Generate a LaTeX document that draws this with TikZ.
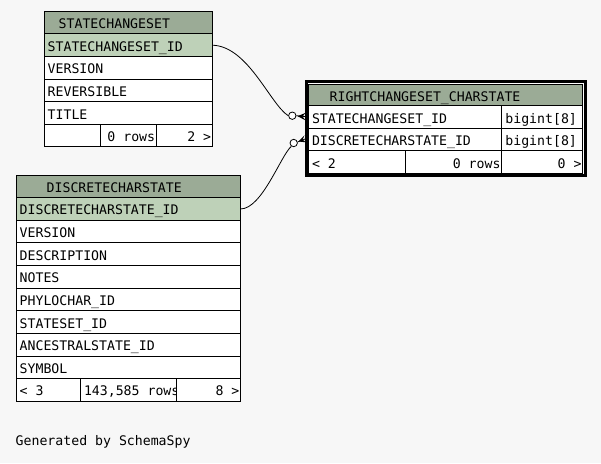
\documentclass[tikz,border=0pt]{standalone}
\usepackage{fontspec}
\newfontfamily\erfont{DejaVu Sans Mono}
\definecolor{bg}{HTML}{F7F7F7}
\definecolor{hdr}{HTML}{9BAB96}
\definecolor{pk}{HTML}{BED1B8}
\tikzset{
  cellbox/.style={draw=black, line width=1pt, inner sep=0pt, outer sep=0pt, rectangle},
  lbl/.style={anchor=base west, inner sep=0pt, font=\erfont\fontsize{13.2}{14}\selectfont},
  rlbl/.style={anchor=base east, inner sep=0pt, font=\erfont\fontsize{13.2}{14}\selectfont},
  rel/.style={line width=0.8pt, black},
  odot/.style={circle, draw=black, fill=white, line width=0.8pt, minimum size=7.4pt, inner sep=0pt},
  frame/.style={draw=black, line width=2.6pt, fill=white, inner sep=0pt, outer sep=0pt, rectangle},
}
% name x y w h fill text
\newcommand{\rowL}[7]{%
  \node[cellbox, fill=#6, minimum width=#4pt, minimum height=#5pt, anchor=north west] (#1) at (#2,#3) {};
  \node[lbl] (#1t) at (#2+3.5,#3+17.3) {#7};}
\newcommand{\rowR}[7]{%
  \node[cellbox, fill=#6, minimum width=#4pt, minimum height=#5pt, anchor=north west] (#1) at (#2,#3) {};
  \node[rlbl] (#1t) at (#2+#4-1,#3+17.3) {#7};}
\newcommand{\rowE}[6]{%
  \node[cellbox, fill=#6, minimum width=#4pt, minimum height=#5pt, anchor=north west] (#1) at (#2,#3) {};}
% name x y w h textx text
\newcommand{\rowH}[7]{%
  \node[cellbox, fill=hdr, minimum width=#4pt, minimum height=#5pt, anchor=north west] (#1) at (#2,#3) {};
  \node[lbl] (#1t) at (#6,#3+17.0) {#7};}
\begin{document}
\begin{tikzpicture}[x=1pt,y=-1pt]
\useasboundingbox (0,0) rectangle (601,463);
\fill[bg] (0,0) rectangle (601,463);

% ---- STATECHANGESET
\rowH{scsh}{44}{11.3}{168.3}{22.6}{58.5}{STATECHANGESET}
\rowL{scsid}{44}{33.9}{168.3}{22.6}{pk}{STATECHANGESET\_ID}
\rowL{scsv}{44}{56.5}{168.3}{22.6}{white}{VERSION}
\rowL{scsr}{44}{79.1}{168.3}{22.6}{white}{REVERSIBLE}
\rowL{scst}{44}{101.7}{168.3}{22.6}{white}{TITLE}
\rowE{scsf1}{44}{124.3}{56.3}{22.6}{white}
\rowR{scsf2}{100.3}{124.3}{56}{22.6}{white}{0 rows}
\rowR{scsf3}{156.3}{124.3}{56}{22.6}{white}{2 >}

% ---- DISCRETECHARSTATE
\rowH{dcsh}{16}{175}{224.6}{22.63}{46.5}{DISCRETECHARSTATE}
\rowL{dcsid}{16}{197.63}{224.6}{22.63}{pk}{DISCRETECHARSTATE\_ID}
\rowL{dcs2}{16}{220.26}{224.6}{22.63}{white}{VERSION}
\rowL{dcs3}{16}{242.89}{224.6}{22.63}{white}{DESCRIPTION}
\rowL{dcs4}{16}{265.52}{224.6}{22.63}{white}{NOTES}
\rowL{dcs5}{16}{288.15}{224.6}{22.63}{white}{PHYLOCHAR\_ID}
\rowL{dcs6}{16}{310.78}{224.6}{22.63}{white}{STATESET\_ID}
\rowL{dcs7}{16}{333.41}{224.6}{22.63}{white}{ANCESTRALSTATE\_ID}
\rowL{dcs8}{16}{356.04}{224.6}{22.63}{white}{SYMBOL}
\rowL{dcsf1}{16}{378.67}{64.3}{22.63}{white}{< 3}
\rowE{dcsf2}{80.3}{378.67}{96.4}{22.63}{white}
\rowR{dcsf3}{176.7}{378.67}{63.9}{22.63}{white}{8 >}
\begin{scope}
  \clip (80.8,379) rectangle (176.2,401);
  \node[lbl] (dcsf2t) at (80.3+3.5,378.67+17.3) {143,585 rows};
\end{scope}

% ---- RIGHTCHANGESET_CHARSTATE
\node[frame, minimum width=278.9pt, minimum height=94.4pt, anchor=north west] (rcsframe) at (306.3,81.3) {};
\rowH{rcsh}{308.3}{84}{274.4}{21.7}{329.5}{RIGHTCHANGESET\_CHARSTATE}
\rowL{rcs1}{308.3}{105.7}{193.4}{22.6}{white}{STATECHANGESET\_ID}
\rowL{rcs1b}{501.7}{105.7}{81}{22.6}{white}{bigint[8]}
\rowL{rcs2}{308.3}{128.3}{193.4}{22.6}{white}{DISCRETECHARSTATE\_ID}
\rowL{rcs2b}{501.7}{128.3}{81}{22.6}{white}{bigint[8]}
\rowL{rcsf1}{308.3}{150.9}{97.4}{22.1}{white}{< 2}
\rowR{rcsf2}{405.7}{150.9}{96}{22.1}{white}{0 rows}
\rowR{rcsf3}{501.7}{150.9}{81}{22.1}{white}{0 >}

% ---- relationships
\coordinate (k1) at (305.5,116.6);
\coordinate (k2) at (305.5,138.8);
\node[odot] (c1) at (292.3,115.7) {};
\node[odot] (c2) at (293.7,143) {};
\draw[rel] (scsid.east) .. controls (248,46) and (270,104) .. (c1.west);
\draw[rel] (dcsid.east) .. controls (262,209) and (281,155) .. (c2.235);
\draw[rel] (c1.east) -- (k1);
\draw[rel] (c2.15) -- (k2);
\fill[black] (297.5,116.2) -- (305.5,112.9) -- (302.5,116.5) -- (305.5,120.3) -- cycle;
\fill[black] (298.3,141.5) -- (304.5,135.4) -- (302.6,139.5) -- (305.8,142.3) -- cycle;

% ---- footer
\node[lbl] (gen) at (15.5,445) {Generated by SchemaSpy};
\end{tikzpicture}
\end{document}
